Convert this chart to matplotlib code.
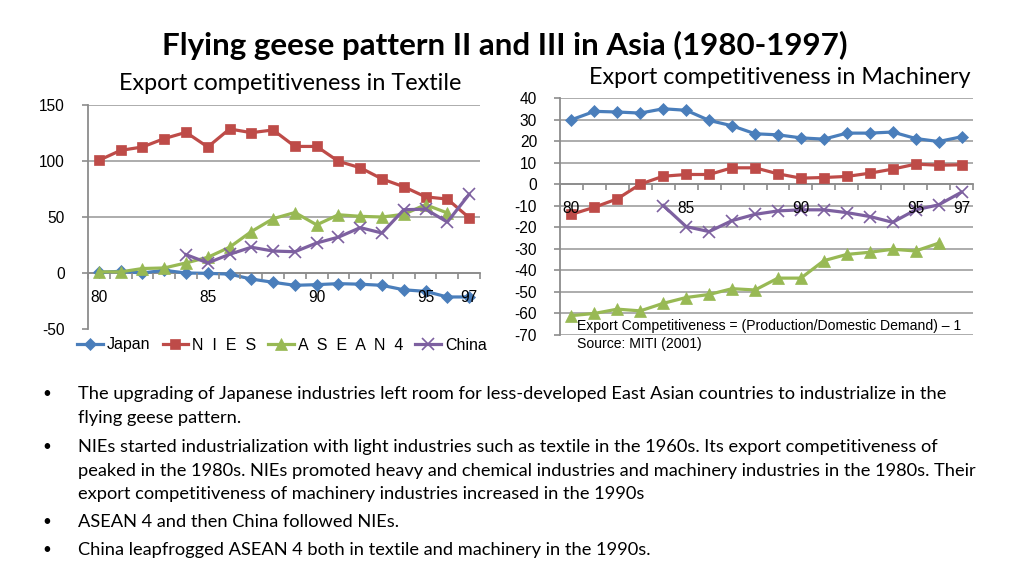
import numpy as np
import matplotlib
matplotlib.use("Agg")
import matplotlib.pyplot as plt
from matplotlib.lines import Line2D

nan = np.nan
years = ['80', '81', '82', '83', '84', '85', '86', '87', '88', '89',
         '90', '91', '92', '93', '94', '95', '96', '97']
shown_years = ['80', '85', '90', '95', '97']
series_names = ['Japan', 'N  I  E  S', 'A  S  E  A  N  4', 'China']

textile_japan = [0.6, 1.5, 0, 2.4, 0, -0.3, -1, -5.4, -8.3, -11, -10.4, -9.5, -10, -11, -15, -16.4, -21.4, -21.4]
textile_nies = [100.6, 109.5, 112.5, 120, 125.6, 112.5, 128.6, 125.3, 127.7, 113, 113, 99.7, 94, 84, 77, 68, 66, 49.4]
textile_asean = [1, 1, 4, 4.5, 9, 14, 23, 37, 48.5, 54, 43, 52, 50.6, 50, 52.4, 61, 53.6, nan]
textile_china = [nan, nan, nan, nan, 16.4, 9, 16.7, 23, 19.6, 19, 26.8, 32, 40.5, 35.7, 56.5, 57, 45.5, 70.2]

machinery_japan = [29.9, 33.8, 33.5, 33, 35, 34.3, 29.6, 27.1, 23.4, 22.9, 21.5, 20.9, 23.7, 23.7, 24.2, 21.2, 19.8, 22]
machinery_nies = [-14, -10.7, -6.8, 0, 3.7, 4.5, 4.5, 7.6, 7.6, 4.8, 2.8, 3.1, 3.6, 5.1, 7, 9.3, 8.8, 9]
machinery_asean = [-61, -60, -58, -58.8, -55.3, -52.6, -51.2, -48.5, -49.1, -43.6, -43.6, -35.5, -32.6, -31.6, -30.2, -31, -27.4, nan]
machinery_china = [nan, nan, nan, nan, -9.9, -19.7, -22, -16.9, -14, -12.4, -11.9, -11.9, -13.2, -15, -17.7, -11.9, -9.6, -3.7]

textile_yticks = [-50, 0, 50, 100, 150]
machinery_yticks = [-70, -60, -50, -40, -30, -20, -10, 0, 10, 20, 30, 40]

bullets = [
    ["The upgrading of Japanese industries left room for less-developed East Asian countries to industrialize in the",
     "flying geese pattern."],
    ["NIEs started industrialization with light industries such as textile in the 1960s. Its export competitiveness of",
     "peaked in the 1980s. NIEs promoted heavy and chemical industries and machinery industries in the 1980s. Their",
     "export competitiveness of machinery industries increased in the 1990s"],
    ["ASEAN 4 and then China followed NIEs."],
    ["China leapfrogged ASEAN 4 both in textile and machinery in the 1990s."],
]

colors = ['#4A7EBB', '#BE4B48', '#98B954', '#7D60A0']
markers = ['D', 's', '^', 'x']
msizes = [6.5, 7.5, 8, 8]

W, H = 1024, 576
fig = plt.figure(figsize=(W / 100, H / 100), dpi=100)
fig.patch.set_facecolor('white')

TXT = 'Lato'
AX = 'Liberation Sans'
GRID = '#A6A6A6'
TICKFS = 11.2


def make_axes(rect_px, data, yticks, ylim, hide_bottom_grid):
    l, r, t, b = rect_px
    ax = fig.add_axes([l / W, 1 - b / H, (r - l) / W, (b - t) / H])
    x = np.arange(len(years))
    for i, ys in enumerate(data):
        mew = 1.2 if markers[i] == 'x' else 0.5
        ax.plot(x, ys, color=colors[i], lw=2.3, marker=markers[i], ms=msizes[i],
                markeredgewidth=mew, markeredgecolor=colors[i], markerfacecolor=colors[i],
                zorder=3 + i)
    ax.set_xlim(-0.5, len(years) - 0.5)
    ax.set_ylim(*ylim)
    ax.set_yticks(yticks)
    ax.set_yticklabels([str(v) for v in yticks], family=AX, fontsize=TICKFS)
    ax.yaxis.grid(True, color=GRID, lw=1.3)
    ax.set_axisbelow(True)
    gl = ax.get_ygridlines()
    if hide_bottom_grid:
        gl[0].set_visible(False)
    for s in ['top', 'right']:
        ax.spines[s].set_visible(False)
    ax.spines['left'].set_color('#8C8C8C')
    ax.spines['left'].set_linewidth(1.3)
    ax.spines['bottom'].set_position(('data', 0))
    ax.spines['bottom'].set_color('#8C8C8C')
    ax.spines['bottom'].set_linewidth(1.3)
    ax.tick_params(axis='y', length=4.5, color='#8C8C8C', width=1.2, pad=12)
    pos = [years.index(y) for y in shown_years]
    ax.set_xticks(pos)
    ax.set_xticklabels(shown_years, family=AX, fontsize=TICKFS)
    ax.set_xticks(np.arange(-0.5, len(years)), minor=True)
    ax.tick_params(axis='x', which='major', length=0, pad=12)
    ax.tick_params(axis='x', which='minor', length=4, color='#8C8C8C', width=1.2, direction='out')
    ax.xaxis.set_zorder(10)
    ax.patch.set_alpha(0)
    return ax


ax1 = make_axes((88, 480, 105, 329),
                [textile_japan, textile_nies, textile_asean, textile_china],
                textile_yticks, (-50, 150), True)
ax2 = make_axes((560, 973, 98, 335),
                [machinery_japan, machinery_nies, machinery_asean, machinery_china],
                machinery_yticks, (-70, 40), False)

# titles
fig.text(505 / W, 1 - 45 / H, 'Flying geese pattern II and III in Asia (1980-1997)',
         family=TXT, weight='bold', fontsize=22.6, ha='center', va='center')
fig.text(290 / W, 1 - 83 / H, 'Export competitiveness in Textile',
         family=TXT, fontsize=16.8, ha='center', va='center')
fig.text(780 / W, 1 - 78 / H, 'Export competitiveness in Machinery',
         family=TXT, fontsize=16.8, ha='center', va='center')

# notes
fig.text(577 / W, 1 - 326 / H, 'Export Competitiveness = (Production/Domestic Demand) \u2013 1',
         family=AX, fontsize=10.1, ha='left', va='center')
fig.text(577 / W, 1 - 344 / H, 'Source: MITI (2001)',
         family=AX, fontsize=10.1, ha='left', va='center')

# legend
handles = [Line2D([], [], color=colors[i], lw=2.3, marker=markers[i], ms=msizes[i],
                  markeredgewidth=(1.2 if markers[i] == 'x' else 0.5),
                  markeredgecolor=colors[i], markerfacecolor=colors[i]) for i in range(4)]
fig.legend(handles, series_names, loc='center', bbox_to_anchor=(282 / W, 1 - 345 / H),
           ncol=4, frameon=False, prop={'family': AX, 'size': 11.5},
           handlelength=1.6, handletextpad=0.25, columnspacing=0.75,
           borderpad=0, borderaxespad=0)

# bullets
line_y = [394, 418, 447, 471, 494, 522, 550]
k = 0
for b in bullets:
    fig.text(42 / W, 1 - line_y[k] / H, '\u2022', family=TXT, fontsize=11, ha='left', va='center')
    for ln in b:
        fig.text(78 / W, 1 - line_y[k] / H, ln, family=TXT, fontsize=13.15, ha='left', va='center')
        k += 1

fig.savefig('out.png', dpi=100)
